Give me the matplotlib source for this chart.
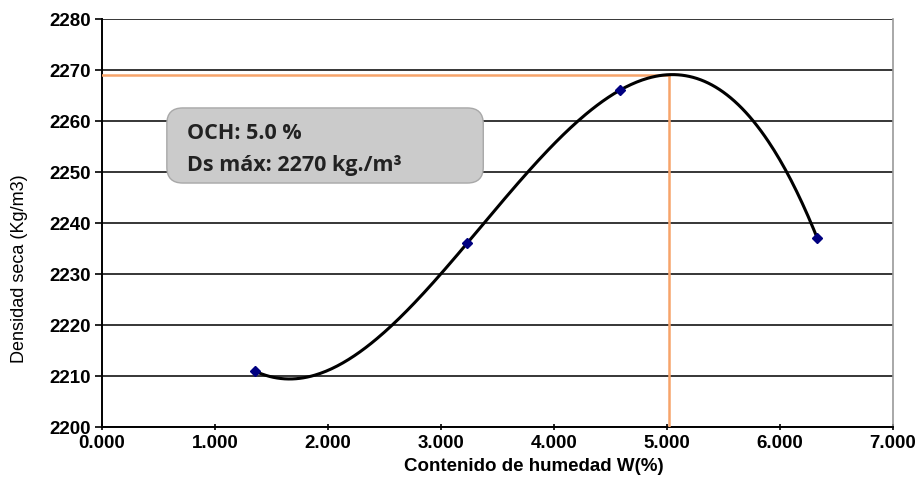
import matplotlib.pyplot as plt
from matplotlib.patches import FancyBboxPatch
import numpy as np

# Ensayo de compactacion: humedad vs densidad seca
humedad = [1.35, 3.23, 4.58, 6.33]
densidad = [2211, 2236, 2266, 2237]
och = 5.02
ds_max = 2269
x_ticks = [0, 1, 2, 3, 4, 5, 6, 7]
y_ticks = [2200, 2210, 2220, 2230, 2240, 2250, 2260, 2270, 2280]

fig = plt.figure(figsize=(9.22, 4.8), dpi=100)
ax = fig.add_axes([0.1106, 0.1104, 0.858, 0.850])

# polynomial trendline (order 3) through the points
coef = np.polyfit(humedad, densidad, 3)
xs = np.linspace(min(humedad), max(humedad), 300)
ax.plot(xs, np.polyval(coef, xs), color='black', linewidth=2.2, zorder=4)
ax.plot(humedad, densidad, linestyle='none', marker='D', markersize=5,
        color='#000080', zorder=5)

# lines marking the optimum
ax.plot([0, och], [ds_max, ds_max], color='#F7A46A', linewidth=1.8, zorder=3)
ax.plot([och, och], [2200, ds_max], color='#F7A46A', linewidth=1.8, zorder=3)

ax.set_xlim(0, 7)
ax.set_ylim(2200, 2280)
ax.set_xticks(x_ticks)
ax.set_xticklabels([f"{v:.3f}" for v in x_ticks])
ax.set_yticks(y_ticks)
ax.yaxis.grid(True, color='black', linewidth=1.1)
ax.set_axisbelow(True)
for lbl in ax.get_xticklabels() + ax.get_yticklabels():
    lbl.set_fontfamily('Liberation Sans')
    lbl.set_fontweight('bold')
    lbl.set_fontsize(13.5)
ax.tick_params(axis='y', length=5, width=1.2, color='black', pad=3)
ax.tick_params(axis='x', length=5, width=1.2, color='black', pad=3,
               direction='inout')

ax.spines['left'].set_linewidth(1.4)
ax.spines['bottom'].set_linewidth(1.4)
ax.spines['right'].set_color('#999999')
ax.spines['right'].set_linewidth(1.2)
ax.spines['top'].set_visible(False)

ax.set_xlabel("Contenido de humedad W(%)", fontfamily='Liberation Sans',
              fontweight='bold', fontsize=13.5)
ax.xaxis.set_label_coords(0.546, -0.076)
ax.set_ylabel("Densidad seca (Kg/m3)", fontfamily='Liberation Sans',
              fontsize=13)
ax.yaxis.set_label_coords(-0.093, 0.387)

# annotation box
box = FancyBboxPatch((0.082, 0.598), 0.40, 0.184, transform=ax.transAxes,
                     boxstyle="round,pad=0,rounding_size=0.02",
                     facecolor='#CBCBCB', edgecolor='#A8A8A8', linewidth=1,
                     zorder=6, mutation_aspect=1.95)
ax.add_patch(box)
ax.text(0.107, 0.72, "OCH: 5.0 %", transform=ax.transAxes, fontsize=15.5,
        fontfamily='Open Sans', fontweight='bold', color='#222222',
        va='center', zorder=7)
ax.text(0.107, 0.642, "Ds máx: 2270 kg./m³", transform=ax.transAxes,
        fontsize=15.5, fontfamily='Open Sans', fontweight='bold',
        color='#222222', va='center', zorder=7)

plt.savefig("out.png", dpi=100)
